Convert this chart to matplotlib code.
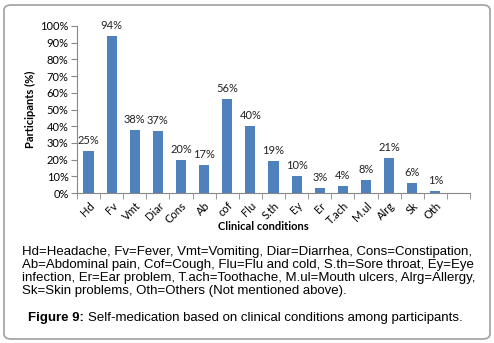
import matplotlib.pyplot as plt
from matplotlib.patches import FancyBboxPatch
import numpy as np

# =====================================
# Data
# =====================================

conditions = ["Hd", "Fv", "Vmt", "Diar", "Cons", "Ab", "cof", "Flu",
              "S.th", "Ey", "Er", "T.ach", "M.ul", "Alrg", "Sk", "Oth"]
participants = [25, 94, 38, 37, 20, 17, 56, 40, 19, 10, 3, 4, 8, 21, 6, 1]
y_ticks = [0, 10, 20, 30, 40, 50, 60, 70, 80, 90, 100]

caption = ("Hd=Headache, Fv=Fever, Vmt=Vomiting, Diar=Diarrhea, Cons=Constipation,\n"
           "Ab=Abdominal pain, Cof=Cough, Flu=Flu and cold, S.th=Sore throat, Ey=Eye\n"
           "infection, Er=Ear problem, T.ach=Toothache, M.ul=Mouth ulcers, Alrg=Allergy,\n"
           "Sk=Skin problems, Oth=Others (Not mentioned above).")

W, H = 494, 343

# =====================================
# Figure
# =====================================

fig = plt.figure(figsize=(W / 100, H / 100), dpi=100)

box = FancyBboxPatch((4 / W, 4 / H), 486 / W, 334 / H,
                     boxstyle="round,pad=0,rounding_size=0.015",
                     transform=fig.transFigure, facecolor="none",
                     edgecolor="#a0a0a0", linewidth=1.2, zorder=-1)
fig.patches.append(box)

ax = fig.add_axes([77 / W, 1 - 193 / H, 393 / W, 167 / H])
ax.patch.set_alpha(0)

x = np.arange(len(conditions))
bars = ax.bar(x, participants, width=0.44, color="#4F81BD")

for xi, v in zip(x, participants):
    ax.text(xi, v + 3, f"{v}%", ha="center", va="bottom",
            fontsize=8, family="Lato", color="#222222")

ax.set_xlim(-0.5, len(conditions) + 0.5)
ax.set_ylim(0, 100)

ax.set_yticks(y_ticks)
ax.set_yticklabels([f"{t}%" for t in y_ticks], fontsize=8, family="Lato")

ax.set_xticks(x)
ax.set_xticklabels(conditions, rotation=45, ha="right", rotation_mode="anchor",
                   fontsize=8, family="Lato")
ax.set_xticks(np.arange(-0.5, len(conditions) + 1), minor=True)
ax.tick_params(axis="x", which="major", length=0, pad=5)
ax.tick_params(axis="x", which="minor", length=4, color="#888888", direction="out")
ax.tick_params(axis="y", length=4, color="#888888", pad=2)

for s in ["top", "right"]:
    ax.spines[s].set_visible(False)
for s in ["left", "bottom"]:
    ax.spines[s].set_color("#888888")

ax.set_ylabel("Participants (%)", fontsize=8, family="Lato", fontweight="bold",
              labelpad=3)
fig.text(263 / W, 1 - 227 / H, "Clinical conditions", ha="center", va="center",
         fontsize=8, family="Lato", fontweight="bold")

fig.text(22 / W, 1 - 246.5 / H, caption, ha="left", va="top",
         fontsize=9.55, family="Liberation Sans", linespacing=1.1)

fig.text(28 / W, 1 - 318 / H, "Figure 9:", ha="left", va="center",
         fontsize=9.55, family="Liberation Sans", fontweight="bold")
fig.text(88 / W, 1 - 318 / H, "Self-medication based on clinical conditions among participants.",
         ha="left", va="center", fontsize=9.55, family="Liberation Sans")

fig.savefig("out.png", dpi=100)
